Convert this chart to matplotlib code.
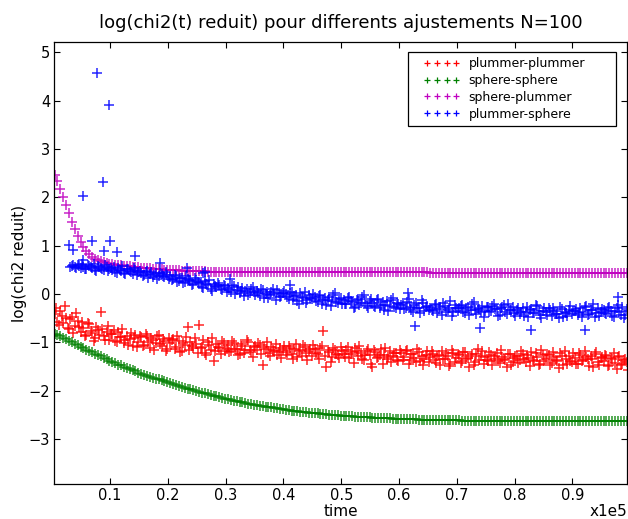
import numpy as np
import matplotlib
matplotlib.use('Agg')
import matplotlib.pyplot as plt
from matplotlib.legend_handler import HandlerLine2D

# sample times of the runs (one output every 500 time units, two interleaved grids)
time = np.arange(400, 99500, 500)
time_b = np.arange(650, 99750, 500)

# log(chi2 reduit), 10 samples per row
plummer_plummer = [
    -0.42, -0.58, -0.35, -0.61, -0.50, -0.72, -0.48, -0.66, -0.55, -0.78,
    -0.70, -0.84, -0.62, -0.80, -0.92, -0.74, -0.38, -0.88, -0.79, -0.95,
    -0.83, -0.97, -0.78, -0.90, -1.02, -0.86, -0.94, -1.08, -0.84, -0.99,
    -0.90, -1.05, -0.88, -1.12, -0.96, -1.01, -0.85, -1.07, -0.98, -1.14,
    -1.02, -0.93, -1.10, -0.97, -1.18, -1.05, -0.68, -0.99, -1.12, -1.03,
    -0.64, -1.09, -1.22, -1.00, -1.15, -1.39, -1.04, -1.11, -0.97, -1.18,
    -1.06, -1.19, -1.02, -1.14, -1.25, -1.08, -1.16, -1.00, -1.21, -1.10,
    -1.17, -1.05, -1.46, -1.13, -1.22, -1.09, -1.19, -1.27, -1.11, -1.16,
    -1.20, -1.08, -1.24, -1.13, -1.31, -1.15, -1.05, -1.22, -1.18, -1.28,
    -1.14, -1.25, -1.12, -0.77, -1.51, -1.21, -1.30, -1.16, -1.26, -1.09,
    -1.24, -1.17, -1.33, -1.20, -1.12, -1.29, -1.22, -1.36, -1.18, -1.27,
    -1.52, -1.21, -1.30, -1.14, -1.26, -1.35, -1.19, -1.28, -1.23, -1.38,
    -1.22, -1.31, -1.17, -1.36, -1.25, -1.40, -1.20, -1.29, -1.34, -1.18,
    -1.30, -1.24, -1.42, -1.27, -1.19, -1.35, -1.28, -1.45, -1.23, -1.32,
    -1.26, -1.38, -1.21, -1.33, -1.29, -1.47, -1.25, -1.36, -1.18, -1.31,
    -1.39, -1.27, -1.34, -1.22, -1.43, -1.30, -1.36, -1.25, -1.48, -1.32,
    -1.28, -1.37, -1.24, -1.41, -1.33, -1.21, -1.39, -1.30, -1.45, -1.27,
    -1.35, -1.26, -1.42, -1.31, -1.38, -1.23, -1.46, -1.34, -1.29, -1.40,
    -1.32, -1.44, -1.27, -1.37, -1.30, -1.49, -1.35, -1.25, -1.41, -1.33,
    -1.38, -1.29, -1.46, -1.34, -1.42, -1.31, -1.48, -1.37, -1.40,
]
plummer_plummer_b = [
    -0.30, -0.65, -0.45, -0.25, -0.70, -0.52, -0.80, -0.40, -0.68, -0.58,
    -0.88, -0.60, -0.77, -0.98, -0.68, -0.85, -0.72, -0.95, -0.66, -0.82,
    -0.75, -1.00, -0.89, -0.72, -0.96, -1.05, -0.80, -0.91, -1.10, -0.87,
    -1.08, -0.83, -0.99, -0.92, -1.15, -0.87, -1.03, -0.94, -1.18, -0.91,
    -0.95, -1.13, -0.88, -1.20, -1.01, -0.90, -1.16, -1.07, -0.92, -1.22,
    -1.12, -0.95, -1.26, -1.06, -0.92, -1.18, -1.10, -1.25, -1.02, -1.14,
    -1.20, -0.98, -1.13, -1.27, -1.04, -1.22, -0.96, -1.15, -1.30, -1.07,
    -1.02, -1.24, -1.10, -0.99, -1.28, -1.15, -1.04, -1.21, -1.33, -1.08,
    -1.26, -1.12, -1.35, -1.03, -1.19, -1.29, -1.10, -1.37, -1.14, -1.06,
    -1.22, -1.34, -1.08, -1.28, -1.16, -1.40, -1.11, -1.24, -1.33, -1.19,
    -1.30, -1.10, -1.25, -1.42, -1.19, -1.08, -1.35, -1.27, -1.14, -1.44,
    -1.16, -1.33, -1.27, -1.45, -1.12, -1.30, -1.40, -1.22, -1.36, -1.15,
    -1.36, -1.19, -1.45, -1.24, -1.33, -1.13, -1.39, -1.48, -1.26, -1.41,
    -1.18, -1.37, -1.28, -1.46, -1.34, -1.22, -1.50, -1.15, -1.40, -1.25,
    -1.43, -1.20, -1.35, -1.51, -1.24, -1.40, -1.14, -1.29, -1.45, -1.37,
    -1.20, -1.46, -1.28, -1.39, -1.17, -1.35, -1.52, -1.24, -1.41, -1.29,
    -1.43, -1.19, -1.34, -1.26, -1.50, -1.37, -1.23, -1.46, -1.16, -1.38,
    -1.24, -1.47, -1.20, -1.36, -1.53, -1.29, -1.18, -1.44, -1.39, -1.22,
    -1.45, -1.23, -1.39, -1.18, -1.35, -1.28, -1.52, -1.21, -1.47, -1.30,
    -1.26, -1.50, -1.33, -1.22, -1.55, -1.28, -1.44, -1.35, -1.58,
]

sphere_sphere = [
    -0.82, -0.85, -0.88, -0.91, -0.94, -0.97, -1.00, -1.03, -1.06, -1.09,
    -1.12, -1.15, -1.18, -1.21, -1.24, -1.27, -1.29, -1.32, -1.35, -1.38,
    -1.41, -1.43, -1.46, -1.48, -1.51, -1.53, -1.56, -1.58, -1.60, -1.63,
    -1.65, -1.67, -1.69, -1.71, -1.73, -1.75, -1.77, -1.79, -1.81, -1.83,
    -1.85, -1.87, -1.89, -1.90, -1.92, -1.94, -1.96, -1.97, -1.99, -2.01,
    -2.03, -2.04, -2.06, -2.07, -2.09, -2.11, -2.12, -2.14, -2.15, -2.17,
    -2.18, -2.19, -2.21, -2.22, -2.23, -2.24, -2.25, -2.27, -2.28, -2.29,
    -2.30, -2.31, -2.32, -2.33, -2.34, -2.35, -2.36, -2.37, -2.38, -2.39,
    -2.40, -2.41, -2.42, -2.42, -2.43, -2.44, -2.44, -2.45, -2.46, -2.46,
    -2.47, -2.47, -2.48, -2.49, -2.49, -2.50, -2.50, -2.51, -2.51, -2.52,
    -2.52, -2.53, -2.53, -2.53, -2.54, -2.54, -2.54, -2.55, -2.55, -2.55,
    -2.56, -2.56, -2.56, -2.57, -2.57, -2.57, -2.57, -2.58, -2.58, -2.58,
    -2.58, -2.59, -2.59, -2.59, -2.59, -2.59, -2.60, -2.60, -2.60, -2.60,
    -2.60, -2.60, -2.61, -2.61, -2.61, -2.61, -2.61, -2.61, -2.61, -2.61,
    -2.61, -2.62, -2.62, -2.62, -2.62, -2.62, -2.62, -2.62, -2.62, -2.62,
    -2.62, -2.62, -2.62, -2.62, -2.62, -2.62, -2.62, -2.62, -2.62, -2.62,
    -2.62, -2.62, -2.62, -2.63, -2.63, -2.63, -2.63, -2.63, -2.63, -2.63,
    -2.63, -2.63, -2.63, -2.63, -2.63, -2.63, -2.63, -2.63, -2.63, -2.63,
    -2.63, -2.63, -2.63, -2.63, -2.63, -2.63, -2.63, -2.63, -2.63, -2.63,
    -2.63, -2.63, -2.63, -2.63, -2.63, -2.63, -2.63, -2.63, -2.63,
]

sphere_plummer = [
    2.47, 2.34, 2.18, 2.01, 1.84, 1.67, 1.50, 1.35, 1.21, 1.07,
    0.97, 0.89, 0.82, 0.77, 0.73, 0.70, 0.68, 0.66, 0.64, 0.63,
    0.62, 0.61, 0.60, 0.59, 0.58, 0.575, 0.57, 0.56, 0.555, 0.55,
    0.545, 0.54, 0.535, 0.53, 0.525, 0.52, 0.515, 0.51, 0.505, 0.50,
    0.50, 0.495, 0.49, 0.49, 0.485, 0.485, 0.48, 0.48, 0.475, 0.475,
    0.47, 0.47, 0.47, 0.465, 0.465, 0.465, 0.46, 0.46, 0.46, 0.46,
    0.455, 0.455, 0.455, 0.455, 0.455, 0.45, 0.45, 0.45, 0.45, 0.45,
    0.45, 0.45, 0.45, 0.45, 0.45, 0.45, 0.45, 0.45, 0.45, 0.45,
    0.45, 0.45, 0.45, 0.45, 0.45, 0.45, 0.45, 0.45, 0.45, 0.45,
    0.45, 0.45, 0.45, 0.45, 0.45, 0.45, 0.45, 0.45, 0.45, 0.45,
    0.445, 0.445, 0.445, 0.445, 0.445, 0.445, 0.445, 0.445, 0.445, 0.445,
    0.445, 0.445, 0.445, 0.445, 0.445, 0.445, 0.445, 0.445, 0.445, 0.445,
    0.445, 0.445, 0.445, 0.445, 0.445, 0.445, 0.445, 0.445, 0.445, 0.445,
    0.44, 0.44, 0.44, 0.44, 0.44, 0.44, 0.44, 0.44, 0.44, 0.44,
    0.44, 0.44, 0.44, 0.44, 0.44, 0.44, 0.44, 0.44, 0.44, 0.44,
    0.44, 0.44, 0.44, 0.44, 0.44, 0.44, 0.44, 0.44, 0.44, 0.44,
    0.44, 0.44, 0.44, 0.44, 0.44, 0.44, 0.44, 0.44, 0.44, 0.44,
    0.44, 0.44, 0.44, 0.44, 0.44, 0.44, 0.44, 0.44, 0.44, 0.44,
    0.44, 0.44, 0.44, 0.44, 0.44, 0.44, 0.44, 0.44, 0.44, 0.44,
    0.44, 0.44, 0.44, 0.44, 0.44, 0.44, 0.44, 0.44, 0.44,
]

nan = np.nan
plummer_sphere = [
    nan, nan, nan, nan, nan, nan, 0.58, 0.55, 0.60, 0.54,
    0.56, 0.52, 0.58, 0.53, 0.50, 0.57, 0.54, 0.49, 0.55, 0.51,
    0.50, 0.46, 0.53, 0.48, 0.44, 0.51, 0.47, 0.42, 0.49, 0.45,
    0.43, 0.39, 0.47, 0.41, 0.36, 0.44, 0.38, 0.42, 0.35, 0.40,
    0.36, 0.30, 0.38, 0.27, 0.33, 0.24, 0.31, 0.26, 0.20, 0.28,
    0.22, 0.15, 0.26, 0.18, 0.10, 0.21, 0.14, 0.19, 0.08, 0.16,
    0.13, 0.05, 0.17, 0.09, 0.02, 0.12, 0.07, -0.02, 0.10, 0.04,
    0.06, -0.04, 0.09, 0.00, -0.08, 0.05, -0.01, 0.08, -0.06, 0.02,
    -0.01, -0.10, 0.05, -0.05, -0.14, 0.02, -0.08, -0.18, -0.03, -0.11,
    -0.07, -0.16, -0.02, -0.12, -0.22, -0.06, -0.14, 0.01, -0.19, -0.09,
    -0.13, -0.21, -0.06, -0.17, -0.27, -0.10, -0.19, -0.03, -0.24, -0.15,
    -0.18, -0.26, -0.11, -0.22, -0.33, -0.14, -0.24, -0.08, -0.29, -0.20,
    -0.23, -0.31, -0.16, -0.27, -0.38, -0.19, -0.30, -0.12, -0.35, -0.25,
    -0.28, -0.36, -0.20, -0.31, -0.43, -0.24, -0.33, -0.15, -0.38, -0.29,
    -0.30, -0.22, -0.39, -0.27, -0.34, -0.17, -0.41, -0.31, -0.24, -0.36,
    -0.27, -0.35, -0.20, -0.32, -0.44, -0.26, -0.37, -0.21, -0.33, -0.40,
    -0.34, -0.42, -0.28, -0.37, -0.47, -0.31, -0.39, -0.25, -0.43, -0.35,
    -0.38, -0.30, -0.45, -0.36, -0.41, -0.27, -0.48, -0.39, -0.33, -0.42,
    -0.36, -0.44, -0.29, -0.38, -0.25, -0.41, -0.33, -0.47, -0.30, -0.37,
    -0.33, -0.41, -0.27, -0.45, -0.36, -0.22, -0.43, -0.50, -0.31,
]
plummer_sphere_b = [
    nan, nan, nan, nan, nan, 0.56, 0.61, 0.53, 0.58, 0.63,
    0.52, 0.59, 0.55, 0.62, 0.48, 0.56, 0.51, 0.60, 0.47, 0.53,
    0.55, 0.43, 0.50, 0.57, 0.41, 0.52, 0.46, 0.54, 0.39, 0.48,
    0.37, 0.46, 0.33, 0.45, 0.40, 0.31, 0.43, 0.37, 0.45, 0.32,
    0.29, 0.40, 0.25, 0.34, 0.22, 0.37, 0.28, 0.18, 0.33, 0.24,
    0.25, 0.12, 0.20, 0.28, 0.06, 0.17, 0.23, 0.11, 0.19, 0.05,
    0.09, 0.18, 0.00, 0.14, 0.06, -0.05, 0.11, 0.01, 0.15, -0.03,
    0.03, 0.11, -0.09, 0.04, -0.02, 0.10, -0.12, 0.01, -0.04, 0.07,
    -0.07, 0.03, -0.12, -0.02, -0.20, -0.06, 0.04, -0.13, -0.09, -0.01,
    -0.15, -0.04, -0.20, -0.09, -0.13, -0.25, -0.03, -0.17, -0.11, -0.21,
    -0.20, -0.08, -0.15, -0.28, -0.12, -0.22, -0.06, -0.18, -0.30, -0.10,
    -0.25, -0.13, -0.30, -0.17, -0.23, -0.36, -0.12, -0.27, -0.19, -0.31,
    -0.19, -0.28, -0.10, -0.34, -0.22, -0.29, -0.40, -0.18, -0.26, -0.33,
    -0.34, -0.22, -0.40, -0.26, -0.18, -0.37, -0.30, -0.45, -0.23, -0.35,
    -0.25, -0.37, -0.30, -0.44, -0.21, -0.33, -0.28, -0.38, -0.47, -0.26,
    -0.38, -0.24, -0.31, -0.46, -0.29, -0.22, -0.41, -0.34, -0.27, -0.45,
    -0.29, -0.38, -0.45, -0.26, -0.33, -0.40, -0.22, -0.36, -0.50, -0.30,
    -0.44, -0.34, -0.28, -0.41, -0.50, -0.32, -0.37, -0.46, -0.24, -0.35,
    -0.31, -0.40, -0.48, -0.27, -0.43, -0.34, -0.21, -0.39, -0.45, -0.32,
    -0.40, -0.28, -0.35, -0.47, -0.30, -0.38, -0.26, -0.44, -0.36,
]

# scattered plummer-sphere points away from the main band
ps_out_t = [2900, 3500, 5400, 5400, 6800, 7800, 8700, 8900, 9900, 10000,
            11200, 14300, 18600, 23300, 26000, 26400, 30700, 41100, 61600,
            62700, 74000, 82900, 92200, 97900]
ps_out_y = [1.01, 0.92, 2.02, 0.70, 1.09, 4.57, 2.32, 0.89, 3.92, 1.09,
            0.87, 0.78, 0.65, 0.53, 0.43, 0.46, 0.30, 0.18, 0.01,
            -0.67, -0.71, -0.75, -0.74, -0.06]

labels = ['plummer-plummer', 'sphere-sphere', 'sphere-plummer', 'plummer-sphere']
colors = ['#ff0000', '#008000', '#c000c0', '#0000ff']
xticks = [10000, 20000, 30000, 40000, 50000, 60000, 70000, 80000, 90000]
xtick_labels = ['0.1', '0.2', '0.3', '0.4', '0.5', '0.6', '0.7', '0.8', '0.9']
yticks = [-3, -2, -1, 0, 1, 2, 3, 4, 5]

fig = plt.figure(figsize=(6.28, 5.19), dpi=100)
ax = fig.add_axes([54.3 / 628, 1 - 484.3 / 519, (627 - 54.3) / 628, (484.3 - 42.3) / 519])

style = dict(linestyle='none', marker='+', markersize=7.5, markeredgewidth=1.1, alpha=0.85)
ax.plot(time, plummer_plummer, color=colors[0], label=labels[0], **style)
ax.plot(time_b, plummer_plummer_b, color=colors[0], **style)
ax.plot(time, sphere_sphere, color=colors[1], label=labels[1], **style)
ax.plot(time, sphere_plummer, color=colors[2], label=labels[2], **style)
ax.plot(time, plummer_sphere, color=colors[3], label=labels[3], **style)
ax.plot(time_b, plummer_sphere_b, color=colors[3], **style)
ax.plot(ps_out_t, ps_out_y, color=colors[3], **style)

ax.set_xlim(350, 99450)
ax.set_ylim(-3.94, 5.21)
ax.set_xticks(xticks)
ax.set_xticklabels(xtick_labels)
ax.set_yticks(yticks)
ax.tick_params(direction='in', length=4, width=0.8, labelsize=10.5,
               top=True, right=True, pad=3)
for sp in ax.spines.values():
    sp.set_linewidth(0.9)

ax.set_title('log(chi2(t) reduit) pour differents ajustements N=100', fontsize=13, pad=10)
ax.set_ylabel('log(chi2 reduit)', fontsize=11)
ax.yaxis.set_label_coords(-0.0485, 0.5)
fig.text(340.5 / 628, 2.5 / 519, 'time', ha='center', va='baseline', fontsize=11)
fig.text(627 / 628, 2.5 / 519, 'x1e5', ha='right', va='baseline', fontsize=11)

leg = ax.legend(loc='upper left', bbox_to_anchor=(0.6176, 0.808, 0.3637, 0.1707),
                mode='expand', numpoints=4, markerscale=0.65, fontsize=9,
                fancybox=False, framealpha=1, edgecolor='black',
                handlelength=4.5, handletextpad=-0.1, labelspacing=0.3,
                borderpad=0.45, borderaxespad=0,
                handler_map={plt.Line2D: HandlerLine2D(marker_pad=1.07)})
leg.get_frame().set_linewidth(0.9)
for h in leg.legend_handles:
    h.set_alpha(1)
    h.set_markeredgewidth(0.9)

fig.savefig('out.png', dpi=100)
